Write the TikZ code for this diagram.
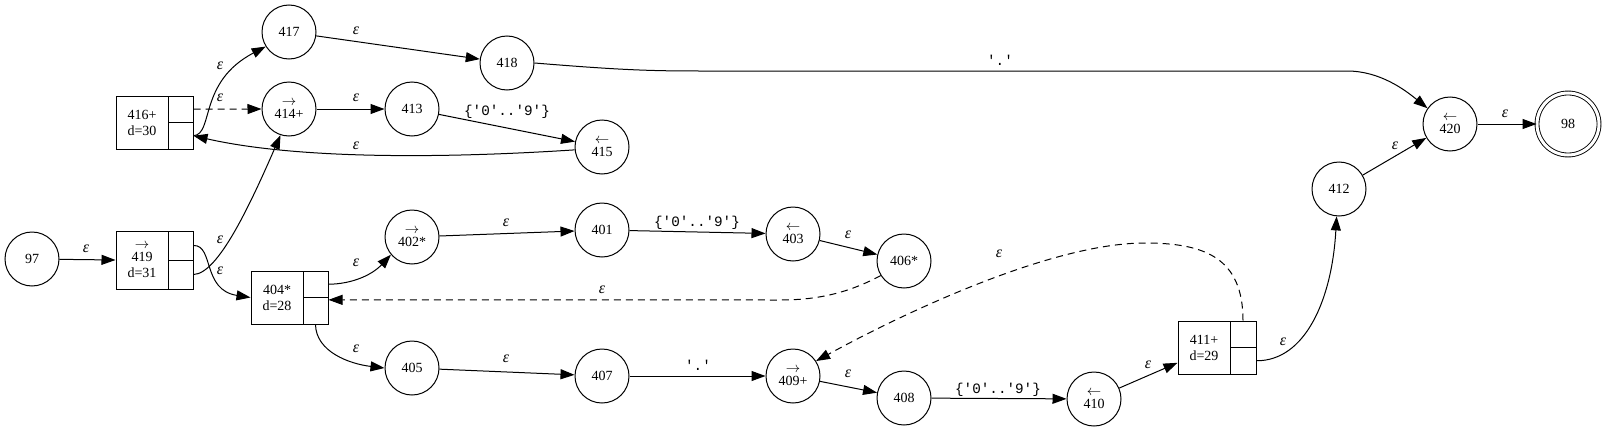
\documentclass[tikz,border=0pt]{standalone}
\usepackage{fontspec}
\setmainfont{Liberation Serif}
\setmonofont{Liberation Mono}
\usetikzlibrary{arrows.meta,calc}
\newcommand{\eps}{\textit{ε}}
\begin{document}
\begin{tikzpicture}[x=1pt,y=-1pt,
 every node/.style={font=\fontsize{14pt}{16pt}\selectfont},
 st/.style={circle,draw,line width=1pt,minimum size=54pt,inner sep=0pt,align=center},
 fin/.style={circle,draw,line width=0.9pt,double,double distance=3pt,minimum size=62pt,inner sep=0pt},
 recl/.style={rectangle,draw,line width=1pt,minimum width=52pt,minimum height=53pt,inner sep=0pt,align=center},
 prt/.style={rectangle,draw,line width=1pt,minimum width=25pt,minimum height=26.5pt,inner sep=0pt},
 arr/.style={line width=1pt,-{Triangle[length=14pt,width=10pt]}},
 darr/.style={arr,dash pattern=on 7pt off 5pt},
 lab/.style={inner sep=1pt,font=\fontsize{16pt}{18pt}\selectfont},
 mlab/.style={inner sep=1pt,font=\fontsize{14.3pt}{16pt}\selectfont\ttfamily}
]
\useasboundingbox (0,0) rectangle (1608,431);

% states
\node[st] (n97) at (32,259) {97};
\node[st] (n417) at (289,32) {417};
\node[st] (n414) at (289,109) {$\rightarrow$\\[-3pt]414+};
\node[st] (n413) at (412,109) {413};
\node[st] (n418) at (507,63) {418};
\node[st] (n415) at (602,147) {$\leftarrow$\\[-3pt]415};
\node[st] (n402) at (412,237) {$\rightarrow$\\[-3pt]402*};
\node[st] (n401) at (602,230) {401};
\node[st] (n403) at (793,234) {$\leftarrow$\\[-3pt]403};
\node[st] (n406) at (904,261) {406*};
\node[st] (n405) at (412,368) {405};
\node[st] (n407) at (602,376) {407};
\node[st] (n409) at (793,376) {$\rightarrow$\\[-3pt]409+};
\node[st] (n408) at (904,398) {408};
\node[st] (n410) at (1094,399) {$\leftarrow$\\[-3pt]410};
\node[st] (n412) at (1339,189) {412};
\node[st] (n420) at (1450,124) {$\leftarrow$\\[-3pt]420};
\node[fin] (n98) at (1568,124) {98};

% record nodes
\node[recl] (b416) at (142,122.5) {416+\\d=30};
\node[prt] (b416a) at (180.5,109.25) {};
\node[prt] (b416b) at (180.5,135.75) {};

\node[recl,minimum height=58pt] (b419) at (142,260) {$\rightarrow$\\[-3pt]419\\d=31};
\node[prt,minimum height=29pt] (b419a) at (180.5,245.5) {};
\node[prt,minimum height=29pt] (b419b) at (180.5,274.5) {};

\node[recl] (b404) at (277,297.5) {404*\\d=28};
\node[prt] (b404a) at (315.5,284.25) {};
\node[prt] (b404b) at (315.5,310.75) {};

\node[recl] (b411) at (1204,347.5) {411+\\d=29};
\node[prt,minimum width=26pt] (b411a) at (1243,334.25) {};
\node[prt,minimum width=26pt] (b411b) at (1243,360.75) {};

% edges
\draw[arr] (n97) -- (b419.west);
\draw[arr] (b419a.east) .. controls (214,245) and (202,290) .. (b404.west);
\draw[arr] (b419b.east) .. controls (218,274) and (250,205) .. (n414.-108);
\draw[arr] (b416b.east) .. controls (214,134) and (198,82) .. (n417.-148);
\draw[darr] (b416a.east) -- (n414.west);
\draw[arr] (n417) -- (n418);
\draw[arr] (n414) -- (n413);
\draw[arr] (n413) -- (n415);
\draw[arr] (n415.186) .. controls (450,158) and (300,160) .. (b416b.east);
\draw[arr] (n418.east) .. controls (620,70) and (650,71) .. (700,71) -- (1347,71) .. controls (1380,71) and (1405,90) .. (n420.145);
\draw[arr] (n420) -- (n98);
\draw[arr] (n412) -- (n420);
\draw[arr] (b411b.east) .. controls (1305,361) and (1332,300) .. (n412.-95);
\draw[arr] (n410) -- (b411.210);
\draw[arr] (n408) -- (n410);
\draw[arr] (n409) -- (n408);
\draw[arr] (n407) -- (n409);
\draw[arr] (n405) -- (n407);
\draw[arr] (b404b.south) .. controls (316,352) and (350,364) .. (n405.west);
\draw[arr] (b404a.east) .. controls (352,284) and (372,275) .. (n402.-140);
\draw[arr] (n402) -- (n401);
\draw[arr] (n401) -- (n403);
\draw[arr] (n403) -- (n406);
\draw[darr] (n406.-148) .. controls (850,292) and (820,300) .. (780,300) -- (b404b.40);
\draw[darr] (b411a.north) .. controls (1243,258) and (1205,243) .. (1145,243) .. controls (1050,243) and (900,315) .. (n409.33);

% labels
\node[lab] (l1) at (86,249) {\eps};
\node[lab] (l2) at (220,271) {\eps};
\node[lab] (l3) at (220,240) {\eps};
\node[lab] (l4) at (220,66) {\eps};
\node[lab] (l5) at (220,98) {\eps};
\node[lab] (l6) at (356,31) {\eps};
\node[lab] (l7) at (356,98) {\eps};
\node[mlab] (l8) at (507,112) {\{'0'..'9'\}};
\node[lab] (l9) at (356,146) {\eps};
\node[mlab] (l10) at (1000,60) {'.'};
\node[lab] (l11) at (1505,114) {\eps};
\node[lab] (l12) at (1395,146) {\eps};
\node[lab] (l13) at (1283,342) {\eps};
\node[lab] (l14) at (1148,365) {\eps};
\node[mlab] (l15) at (998,390) {\{'0'..'9'\}};
\node[lab] (l16) at (848,374) {\eps};
\node[mlab] (l17) at (698,365) {'.'};
\node[lab] (l18) at (506,359) {\eps};
\node[lab] (l19) at (356,349) {\eps};
\node[lab] (l20) at (356,263) {\eps};
\node[lab] (l21) at (506,223) {\eps};
\node[mlab] (l22) at (697,223) {\{'0'..'9'\}};
\node[lab] (l23) at (848,235) {\eps};
\node[lab] (l24) at (602,290) {\eps};
\node[lab] (l25) at (999,254) {\eps};
\end{tikzpicture}
\end{document}
